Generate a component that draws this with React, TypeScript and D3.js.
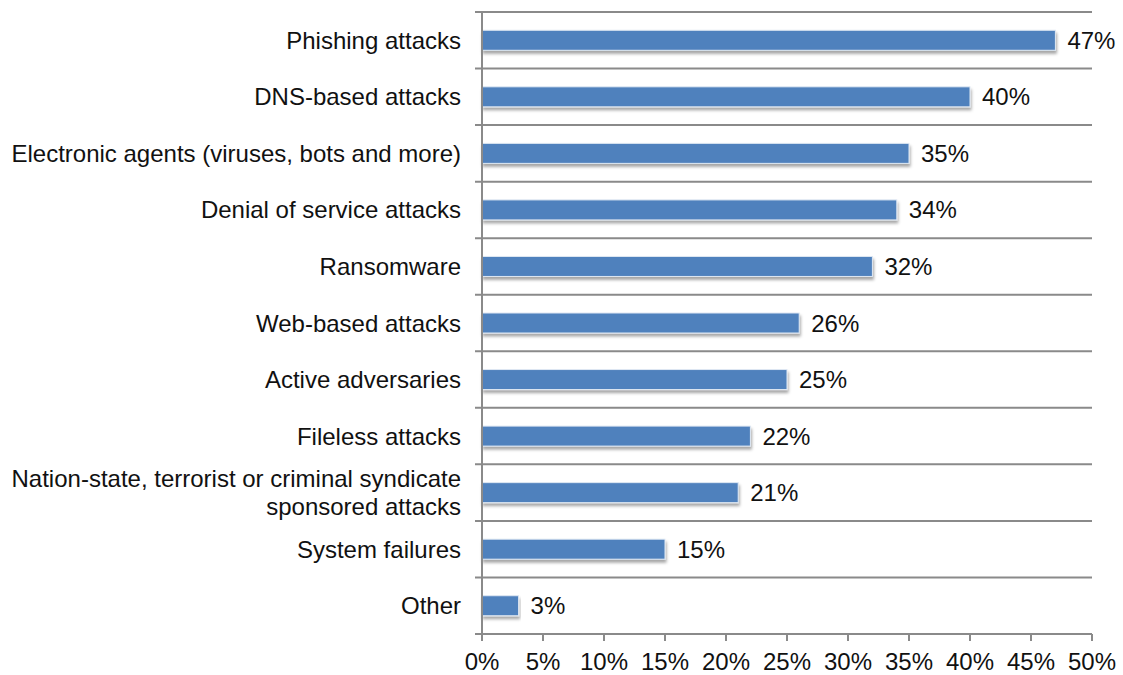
import React, { useEffect } from "react";
import * as d3 from "d3";

const categories: string[][] = [
  ["Phishing attacks"],
  ["DNS-based attacks"],
  ["Electronic agents (viruses, bots and more)"],
  ["Denial of service attacks"],
  ["Ransomware"],
  ["Web-based attacks"],
  ["Active adversaries"],
  ["Fileless attacks"],
  ["Nation-state, terrorist or criminal syndicate", "sponsored attacks"],
  ["System failures"],
  ["Other"],
];
const values: number[] = [47, 40, 35, 34, 32, 26, 25, 22, 21, 15, 3];
const ticks: number[] = [0, 5, 10, 15, 20, 25, 30, 35, 40, 45, 50];

const W = 1123;
const H = 675;
const left = 482;
const right = 1092;
const top = 12;
const bottom = 634;
const font = "'Liberation Sans', Arial, sans-serif";
const fs = 24;

export default function App() {
  useEffect(() => {
    document.body.style.margin = "0";
  }, []);
  const x = d3.scaleLinear().domain([0, 50]).range([left, right]);
  const idx = categories.map((_, i) => String(i));
  const y = d3.scaleBand().domain(idx).range([top, bottom]);
  const bw = y.bandwidth();
  const barH = 20;
  const boundaries = d3.range(categories.length + 1).map((i) => top + i * bw);
  const grid = "#8a8a8a";
  return (
    <svg width={W} height={H} style={{ display: "block" }}>
      <defs>
        <filter id="sh" x="-5%" y="-30%" width="110%" height="180%">
          <feDropShadow dx="1" dy="3" stdDeviation="1.6" floodColor="#000" floodOpacity="0.35" />
        </filter>
      </defs>
      <rect width={W} height={H} fill="#fff" />
      {boundaries.slice(0, -1).map((b, i) => (
        <line key={"g" + i} x1={left - 7} x2={right} y1={b} y2={b} stroke={grid} strokeWidth={2} />
      ))}
      {values.map((v, i) => {
        const cy = (y(String(i)) as number) + bw / 2;
        return (
          <g key={"b" + i}>
            <rect
              x={x(0)}
              y={cy - barH / 2}
              width={x(v) - x(0)}
              height={barH}
              fill="#4F81BD"
              stroke="#dfe8f3"
              strokeWidth={1}
              filter="url(#sh)"
            />
            <text x={x(v) + 12} y={cy + 8.5} fontFamily={font} fontSize={fs} fill="#111">
              {v}%
            </text>
          </g>
        );
      })}
      <line x1={left} x2={right} y1={bottom} y2={bottom} stroke={grid} strokeWidth={2} />
      <line x1={left} x2={left} y1={top} y2={bottom + 7} stroke={grid} strokeWidth={2} />
      <line x1={left - 7} x2={left} y1={bottom} y2={bottom} stroke={grid} strokeWidth={2} />
      {ticks.map((t) => (
        <g key={"t" + t}>
          <line x1={x(t)} x2={x(t)} y1={bottom} y2={bottom + 7} stroke={grid} strokeWidth={2} />
          <text x={x(t)} y={670} textAnchor="middle" fontFamily={font} fontSize={fs} fill="#111">
            {t}%
          </text>
        </g>
      ))}
      {categories.map((lines, i) => {
        const cy = (y(String(i)) as number) + bw / 2;
        const lh = 28;
        const start = cy + 8.5 - ((lines.length - 1) * lh) / 2;
        return (
          <text key={"c" + i} textAnchor="end" fontFamily={font} fontSize={fs} fill="#111">
            {lines.map((l, j) => (
              <tspan key={j} x={461} y={start + j * lh}>
                {l}
              </tspan>
            ))}
          </text>
        );
      })}
    </svg>
  );
}
